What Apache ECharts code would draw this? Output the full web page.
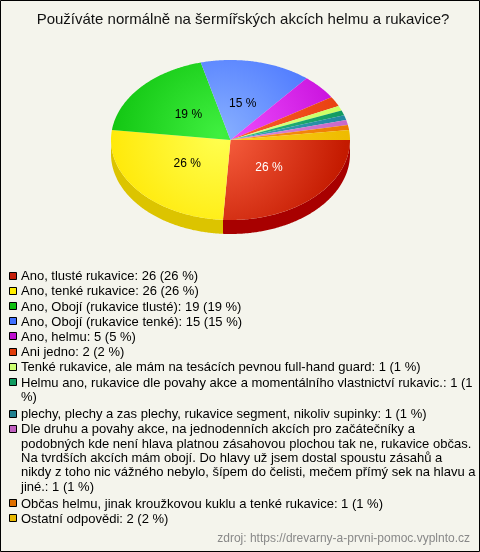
<!DOCTYPE html>
<html>
<head>
<meta charset="utf-8">
<script src="https://cdn.jsdelivr.net/npm/echarts@6/dist/echarts.min.js"></script>
<style>
html,body{margin:0;padding:0;background:#f4f4ec;}
#c{width:480px;height:552px;}
</style>
</head>
<body>
<div id="c"></div>
<script>
var titleText = 'Používáte normálně na šermířských akcích helmu a rukavice?';
var sourceText = 'zdroj: https://drevarny-a-prvni-pomoc.vyplnto.cz';
var categories = [
  'Ano, tlusté rukavice',
  'Ano, tenké rukavice',
  'Ano, Obojí (rukavice tlusté)',
  'Ano, Obojí (rukavice tenké)',
  'Ano, helmu',
  'Ani jedno',
  'Tenké rukavice, ale mám na tesácích pevnou full-hand guard',
  'Helmu ano, rukavice dle povahy akce a momentálního vlastnictví rukavic.',
  'plechy, plechy a zas plechy, rukavice segment, nikoliv supinky',
  'Dle druhu a povahy akce, na jednodenních akcích pro začátečníky a podobných kde není hlava platnou zásahovou plochou tak ne, rukavice občas. Na tvrdších akcích mám obojí. Do hlavy už jsem dostal spoustu zásahů a nikdy z toho nic vážného nebylo, šípem do čelisti, mečem přímý sek na hlavu a jiné.',
  'Občas helmu, jinak kroužkovou kuklu a tenké rukavice',
  'Ostatní odpovědi'
];
var values = [26, 26, 19, 15, 5, 2, 1, 1, 1, 1, 1, 2];
var topLight = ['#f86040','#ffff50','#40f040','#88b0ff','#f050ff','#ff6030','#e0ff90','#30c080','#40a8c0','#e090e0','#ff9a20','#ffd020'];
var topDark  = ['#c41a00','#ffe600','#0cc00c','#4470ff','#c810dc','#e84010','#c8ff60','#109a60','#2088a0','#c868c8','#ec7a00','#eebc00'];
var sideCol  = ['#a80000','#dcc400','#0a9a0a','#3050d0','#a010b0','#c03000','#a0d040','#0c7848','#186878','#a050a0','#c06000','#c09800'];
var legendCol= ['#c41e0a','#ffee00','#10c010','#4070ff','#c010d0','#e03c0a','#ccff70','#109a60','#208090','#c060c0','#e07000','#e8b800'];

var CX = 230.5, CY = 140, RX = 119.5, RY = 80, DEPTH = 14;
var total = values.reduce(function(a,b){return a+b;},0);
var starts = [], ends = [];
(function(){ var acc = 0; values.forEach(function(v){ starts.push(acc/total*Math.PI*2); acc += v; ends.push(acc/total*Math.PI*2); }); })();

function pt(a, dy){ return [CX + RX*Math.cos(a), CY + RY*Math.sin(a) + (dy||0)]; }

function renderItem(params, api){
  var i = params.dataIndex;
  var a0 = starts[i], a1 = ends[i];
  var children = [];
  var s0 = Math.max(a0, 0), s1 = Math.min(a1, Math.PI);
  if (s1 > s0) {
    var top = [], bot = [];
    var n = Math.max(2, Math.ceil((s1-s0)/0.01));
    for (var k=0;k<=n;k++){ var a = s0 + (s1-s0)*k/n; top.push(pt(a,0)); bot.push(pt(a,DEPTH)); }
    children.push({type:'polygon', z2:1, shape:{points: top.concat(bot.reverse())}, style:{fill: sideCol[i]}});
  }
  var pts = [[CX,CY]];
  var m = Math.max(2, Math.ceil((a1-a0)/0.01));
  for (var j=0;j<=m;j++){ pts.push(pt(a0 + (a1-a0)*j/m, 0)); }
  children.push({type:'polygon', z2:10, shape:{points: pts},
    style:{fill: new echarts.graphic.RadialGradient(CX-10, CY-5, RX*1.05, [{offset:0,color:topLight[i]},{offset:1,color:topDark[i]}], true)}});
  var pct = Math.round(api.value(0)/total*100);
  if (pct >= 10) {
    var mid = (a0+a1)/2;
    children.push({type:'text', z2:20, style:{x: CX + 0.47*RX*Math.cos(mid), y: CY + 0.47*RY*Math.sin(mid),
      text: pct + ' %', fill: i===0 ? '#ffffff' : '#000000', font:'12px "Liberation Sans", Arial, sans-serif', align:'center', verticalAlign:'middle'}});
  }
  return {type:'group', children: children};
}

var FONT = '13px "Liberation Sans", Arial, sans-serif';
var LH = 14.3, WRAPW = 455;
var mctx = document.createElement('canvas').getContext('2d');
mctx.font = FONT;
function wrap(text){
  var words = text.split(' '), lines = [], cur = '';
  words.forEach(function(w){
    var cand = cur ? cur + ' ' + w : w;
    if (cur && mctx.measureText(cand).width > WRAPW) { lines.push(cur); cur = w; }
    else cur = cand;
  });
  if (cur) lines.push(cur);
  return lines;
}

var graphics = [];
graphics.push({type:'rect', shape:{x:0.5,y:0.5,width:479,height:551}, style:{fill:'none', stroke:'#000', lineWidth:1}, silent:true});
graphics.push({type:'text', style:{x:243, y:20, text:titleText, font:'15px "Liberation Sans", Arial, sans-serif', fill:'#111', align:'center', verticalAlign:'middle'}});
var y = 276.7;
categories.forEach(function(name, i){
  var label = name + ': ' + values[i] + ' (' + Math.round(values[i]/total*100) + ' %)';
  var lines = wrap(label);
  graphics.push({type:'rect', shape:{x:9.5, y:Math.round(y-5)+0.5, width:7, height:7}, style:{fill:legendCol[i], stroke:'#000', lineWidth:1}});
  graphics.push({type:'text', style:{x:21, y:y - LH/2, text:lines.join('\n'), font:FONT, lineHeight:LH, fill:'#000', align:'left', verticalAlign:'top'}});
  y += 15.2 + (lines.length-1)*LH + (lines.length>1 ? 2 : 0);
});
graphics.push({type:'text', style:{x:470, y:539, text:sourceText, font:'12px "Liberation Sans", Arial, sans-serif', fill:'#888', align:'right', verticalAlign:'middle'}});

var chart = echarts.init(document.getElementById('c'), null, {renderer:'canvas'});
chart.setOption({
  backgroundColor:'#f4f4ec',
  animation:false,
  series:[{
    type:'custom', coordinateSystem:'none', renderItem: renderItem,
    data: values.map(function(v,i){ return {name: categories[i], value:[v]}; })
  }],
  graphic: graphics
});
</script>
</body>
</html>
